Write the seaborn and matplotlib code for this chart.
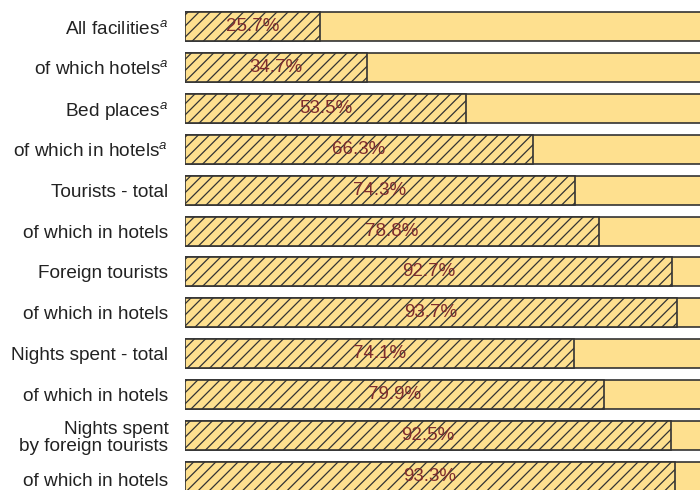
import numpy as np
import pandas as pd
import seaborn as sns
import matplotlib.pyplot as plt
import matplotlib.transforms as mtransforms

# Data
categories = ["All facilities$^{a}$", "of which hotels$^{a}$", "Bed places$^{a}$",
              "of which in hotels$^{a}$", "Tourists - total", "of which in hotels",
              "Foreign tourists", "of which in hotels", "Nights spent - total",
              "of which in hotels", "Nights spent\nby foreign tourists", "of which in hotels"]
shares = [25.7, 34.7, 53.5, 66.3, 74.3, 78.8, 92.7, 93.7, 74.1, 79.9, 92.5, 93.3]
totals = [100.0] * len(shares)

df = pd.DataFrame({"row": range(len(categories)), "share": shares, "total": totals})

sns.set_style("white")
plt.rcParams['font.family'] = ['Liberation Sans', 'DejaVu Sans']
plt.rcParams['mathtext.fontset'] = 'custom'
plt.rcParams['mathtext.it'] = 'Liberation Sans:italic'
plt.rcParams['hatch.linewidth'] = 0.9
plt.rcParams['hatch.color'] = '#222222'

fig = plt.figure(figsize=(7, 4.9), dpi=100)
ax = fig.add_axes([185 / 700, 0, 1 - 185 / 700, 1])

yellow = '#FEE08F'
sns.barplot(data=df, x="total", y="row", orient="h", color=yellow, width=0.71,
            edgecolor='#333333', linewidth=1.2, saturation=1, ax=ax)
n = len(ax.patches)
sns.barplot(data=df, x="share", y="row", orient="h", color=yellow, width=0.71,
            edgecolor='#333333', linewidth=1.2, saturation=1, ax=ax)
for p in ax.patches[n:]:
    p.set_hatch('///')

for i, v in enumerate(shares):
    ax.text(v / 2, i, f"{v:.1f}%", ha='center', va='center', fontsize=13.5,
            color='#7F2D2D')

ax.set_xlim(0, 515 / 525 * 100)
ax.set_ylim(11.33, -0.648)
ax.set_yticks(range(len(categories)))
ax.set_yticklabels(categories, fontsize=13.7, color='#222222', linespacing=1.05)
ax.tick_params(axis='y', length=0, pad=12)
# last label sits a little lower in the original
last = ax.get_yticklabels()[-1]
last.set_transform(last.get_transform() +
                   mtransforms.ScaledTranslation(0, -3 / 100, fig.dpi_scale_trans))
ax.set_xticks([])
ax.set_xlabel("")
ax.set_ylabel("")
sns.despine(ax=ax, left=True, bottom=True)

fig.savefig("out.png", dpi=100)
